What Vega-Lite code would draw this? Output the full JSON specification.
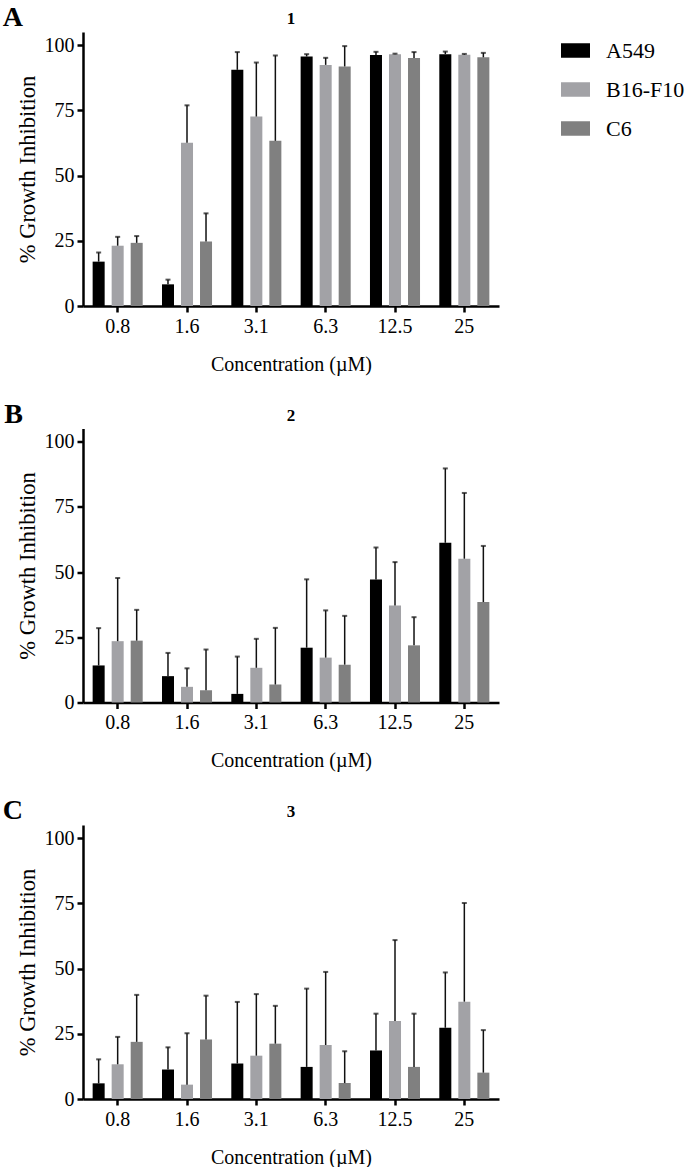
{
  "$schema": "https://vega.github.io/schema/vega-lite/v6.json",
  "padding": {"left": 2, "top": 4, "right": 0, "bottom": 0},
  "background": "white",
  "config": {
    "font": "Liberation Serif",
    "view": {"stroke": null},
    "axis": {"domainColor": "black", "domainWidth": 2.5, "tickColor": "black", "tickWidth": 2.5, "tickSize": 6, "labelFontSize": 20, "labelColor": "black", "titleFontSize": 20, "titleFontWeight": "normal", "titleColor": "black", "grid": false, "labelFont": "Liberation Serif", "titleFont": "Liberation Serif"},
    "axisX": {"labelAngle": 0, "labelPadding": 4, "titlePadding": 18},
    "axisY": {"labelPadding": 3, "titlePadding": 5, "titleFontSize": 22.5},
    "title": {"font": "Liberation Serif", "fontWeight": "bold", "color": "black"},
    "legend": {"labelFont": "Liberation Serif"},
    "concat": {"spacing": 26.5}
  },
  "datasets": {
    "p1": [
      {"conc": "0.8", "line": "A549", "mean": 17.0, "upper": 20.5},
      {"conc": "0.8", "line": "B16-F10", "mean": 23.1, "upper": 26.5},
      {"conc": "0.8", "line": "C6", "mean": 24.2, "upper": 26.8},
      {"conc": "1.6", "line": "A549", "mean": 8.3, "upper": 10.1},
      {"conc": "1.6", "line": "B16-F10", "mean": 62.6, "upper": 76.9},
      {"conc": "1.6", "line": "C6", "mean": 24.7, "upper": 35.5},
      {"conc": "3.1", "line": "A549", "mean": 90.5, "upper": 97.3},
      {"conc": "3.1", "line": "B16-F10", "mean": 72.6, "upper": 93.3},
      {"conc": "3.1", "line": "C6", "mean": 63.3, "upper": 96.0},
      {"conc": "6.3", "line": "A549", "mean": 95.6, "upper": 96.5},
      {"conc": "6.3", "line": "B16-F10", "mean": 92.4, "upper": 95.1},
      {"conc": "6.3", "line": "C6", "mean": 91.8, "upper": 99.6},
      {"conc": "12.5", "line": "A549", "mean": 96.2, "upper": 97.4},
      {"conc": "12.5", "line": "B16-F10", "mean": 96.5, "upper": 96.7},
      {"conc": "12.5", "line": "C6", "mean": 95.0, "upper": 97.3},
      {"conc": "25", "line": "A549", "mean": 96.5, "upper": 97.5},
      {"conc": "25", "line": "B16-F10", "mean": 96.3, "upper": 96.6},
      {"conc": "25", "line": "C6", "mean": 95.3, "upper": 97.0}
    ],
    "p2": [
      {"conc": "0.8", "line": "A549", "mean": 14.2, "upper": 28.5},
      {"conc": "0.8", "line": "B16-F10", "mean": 23.5, "upper": 47.7},
      {"conc": "0.8", "line": "C6", "mean": 23.7, "upper": 35.5},
      {"conc": "1.6", "line": "A549", "mean": 10.1, "upper": 19.0},
      {"conc": "1.6", "line": "B16-F10", "mean": 6.0, "upper": 13.1},
      {"conc": "1.6", "line": "C6", "mean": 4.7, "upper": 20.3},
      {"conc": "3.1", "line": "A549", "mean": 3.3, "upper": 17.6},
      {"conc": "3.1", "line": "B16-F10", "mean": 13.3, "upper": 24.4},
      {"conc": "3.1", "line": "C6", "mean": 6.9, "upper": 28.6},
      {"conc": "6.3", "line": "A549", "mean": 21.0, "upper": 47.2},
      {"conc": "6.3", "line": "B16-F10", "mean": 17.2, "upper": 35.3},
      {"conc": "6.3", "line": "C6", "mean": 14.5, "upper": 33.2},
      {"conc": "12.5", "line": "A549", "mean": 47.1, "upper": 59.4},
      {"conc": "12.5", "line": "B16-F10", "mean": 37.2, "upper": 53.8},
      {"conc": "12.5", "line": "C6", "mean": 21.9, "upper": 32.7},
      {"conc": "25", "line": "A549", "mean": 61.2, "upper": 89.7},
      {"conc": "25", "line": "B16-F10", "mean": 55.1, "upper": 80.3},
      {"conc": "25", "line": "C6", "mean": 38.5, "upper": 60.0}
    ],
    "p3": [
      {"conc": "0.8", "line": "A549", "mean": 6.0, "upper": 15.2},
      {"conc": "0.8", "line": "B16-F10", "mean": 13.3, "upper": 23.8},
      {"conc": "0.8", "line": "C6", "mean": 21.9, "upper": 39.9},
      {"conc": "1.6", "line": "A549", "mean": 11.3, "upper": 19.8},
      {"conc": "1.6", "line": "B16-F10", "mean": 5.5, "upper": 25.2},
      {"conc": "1.6", "line": "C6", "mean": 22.8, "upper": 39.6},
      {"conc": "3.1", "line": "A549", "mean": 13.6, "upper": 37.2},
      {"conc": "3.1", "line": "B16-F10", "mean": 16.6, "upper": 40.2},
      {"conc": "3.1", "line": "C6", "mean": 21.2, "upper": 35.7},
      {"conc": "6.3", "line": "A549", "mean": 12.3, "upper": 42.3},
      {"conc": "6.3", "line": "B16-F10", "mean": 20.7, "upper": 48.7},
      {"conc": "6.3", "line": "C6", "mean": 6.1, "upper": 18.3},
      {"conc": "12.5", "line": "A549", "mean": 18.6, "upper": 32.7},
      {"conc": "12.5", "line": "B16-F10", "mean": 29.9, "upper": 60.9},
      {"conc": "12.5", "line": "C6", "mean": 12.3, "upper": 32.7},
      {"conc": "25", "line": "A549", "mean": 27.3, "upper": 48.5},
      {"conc": "25", "line": "B16-F10", "mean": 37.3, "upper": 75.1},
      {"conc": "25", "line": "C6", "mean": 10.1, "upper": 26.4}
    ]
  },
  "resolve": {"legend": {"color": "independent"}},
  "vconcat": [
    {
      "title": {"text": "A", "orient": "left", "angle": 0, "anchor": "end", "baseline": "top", "align": "left", "fontSize": 28, "offset": -7, "dy": -6},
      "resolve": {"legend": {"color": "independent"}},
      "vconcat": [
        {
          "title": {"text": "1", "fontSize": 17, "offset": 4},
          "width": 416, "height": 274,
          "data": {"name": "p1"},
          "encoding": {
            "x": {"field": "conc", "type": "ordinal", "sort": ["0.8", "1.6", "3.1", "6.3", "12.5", "25"], "scale": {"paddingInner": 0.278, "paddingOuter": 0.139}, "axis": {"title": "Concentration (µM)"}},
            "xOffset": {"field": "line", "type": "nominal", "sort": ["A549", "B16-F10", "C6"], "scale": {"paddingInner": 0.368, "paddingOuter": 0}}
          },
          "layer": [
            {"mark": {"type": "bar"},
             "encoding": {
               "y": {"field": "mean", "type": "quantitative", "scale": {"domain": [0, 105], "nice": false}, "axis": {"values": [0, 25, 50, 75, 100], "title": "% Growth Inhibition"}},
               "color": {"field": "line", "type": "nominal", "scale": {"domain": ["A549", "B16-F10", "C6"], "range": ["#000000", "#a2a2a6", "#808080"]},
                 "legend": {"orient": "none", "legendX": 478, "legendY": 4, "title": null, "symbolType": "M-1,-0.5H1V0.5H-1Z", "symbolSize": 841, "symbolStrokeWidth": 0, "symbolOpacity": 1, "labelFontSize": 22, "labelFont": "Liberation Serif", "labelColor": "black", "labelOffset": 16, "rowPadding": 13}}
             }},
            {"mark": {"type": "rule", "color": "#111111", "strokeWidth": 1.5},
             "encoding": {"y": {"field": "mean", "type": "quantitative"}, "y2": {"field": "upper"}}},
            {"mark": {"type": "tick", "color": "#111111", "thickness": 2, "size": 5},
             "encoding": {"y": {"field": "upper", "type": "quantitative"}}}
          ]
        }
      ]
    },
    {
      "title": {"text": "B", "orient": "left", "angle": 0, "anchor": "end", "baseline": "top", "align": "left", "fontSize": 28, "offset": -7, "dy": -6},
      "resolve": {"legend": {"color": "independent"}},
      "vconcat": [
        {
          "title": {"text": "2", "fontSize": 17, "offset": 4},
          "width": 416, "height": 274,
          "data": {"name": "p2"},
          "encoding": {
            "x": {"field": "conc", "type": "ordinal", "sort": ["0.8", "1.6", "3.1", "6.3", "12.5", "25"], "scale": {"paddingInner": 0.278, "paddingOuter": 0.139}, "axis": {"title": "Concentration (µM)"}},
            "xOffset": {"field": "line", "type": "nominal", "sort": ["A549", "B16-F10", "C6"], "scale": {"paddingInner": 0.368, "paddingOuter": 0}}
          },
          "layer": [
            {"mark": {"type": "bar"},
             "encoding": {
               "y": {"field": "mean", "type": "quantitative", "scale": {"domain": [0, 105], "nice": false}, "axis": {"values": [0, 25, 50, 75, 100], "title": "% Growth Inhibition"}},
               "color": {"field": "line", "type": "nominal", "scale": {"domain": ["A549", "B16-F10", "C6"], "range": ["#000000", "#a2a2a6", "#808080"]}, "legend": null}
             }},
            {"mark": {"type": "rule", "color": "#111111", "strokeWidth": 1.5},
             "encoding": {"y": {"field": "mean", "type": "quantitative"}, "y2": {"field": "upper"}}},
            {"mark": {"type": "tick", "color": "#111111", "thickness": 2, "size": 5},
             "encoding": {"y": {"field": "upper", "type": "quantitative"}}}
          ]
        }
      ]
    },
    {
      "title": {"text": "C", "orient": "left", "angle": 0, "anchor": "end", "baseline": "top", "align": "left", "fontSize": 28, "offset": -7, "dy": -6},
      "resolve": {"legend": {"color": "independent"}},
      "vconcat": [
        {
          "title": {"text": "3", "fontSize": 17, "offset": 4},
          "width": 416, "height": 274,
          "data": {"name": "p3"},
          "encoding": {
            "x": {"field": "conc", "type": "ordinal", "sort": ["0.8", "1.6", "3.1", "6.3", "12.5", "25"], "scale": {"paddingInner": 0.278, "paddingOuter": 0.139}, "axis": {"title": "Concentration (µM)"}},
            "xOffset": {"field": "line", "type": "nominal", "sort": ["A549", "B16-F10", "C6"], "scale": {"paddingInner": 0.368, "paddingOuter": 0}}
          },
          "layer": [
            {"mark": {"type": "bar"},
             "encoding": {
               "y": {"field": "mean", "type": "quantitative", "scale": {"domain": [0, 105], "nice": false}, "axis": {"values": [0, 25, 50, 75, 100], "title": "% Growth Inhibition"}},
               "color": {"field": "line", "type": "nominal", "scale": {"domain": ["A549", "B16-F10", "C6"], "range": ["#000000", "#a2a2a6", "#808080"]}, "legend": null}
             }},
            {"mark": {"type": "rule", "color": "#111111", "strokeWidth": 1.5},
             "encoding": {"y": {"field": "mean", "type": "quantitative"}, "y2": {"field": "upper"}}},
            {"mark": {"type": "tick", "color": "#111111", "thickness": 2, "size": 5},
             "encoding": {"y": {"field": "upper", "type": "quantitative"}}}
          ]
        }
      ]
    }
  ]
}
